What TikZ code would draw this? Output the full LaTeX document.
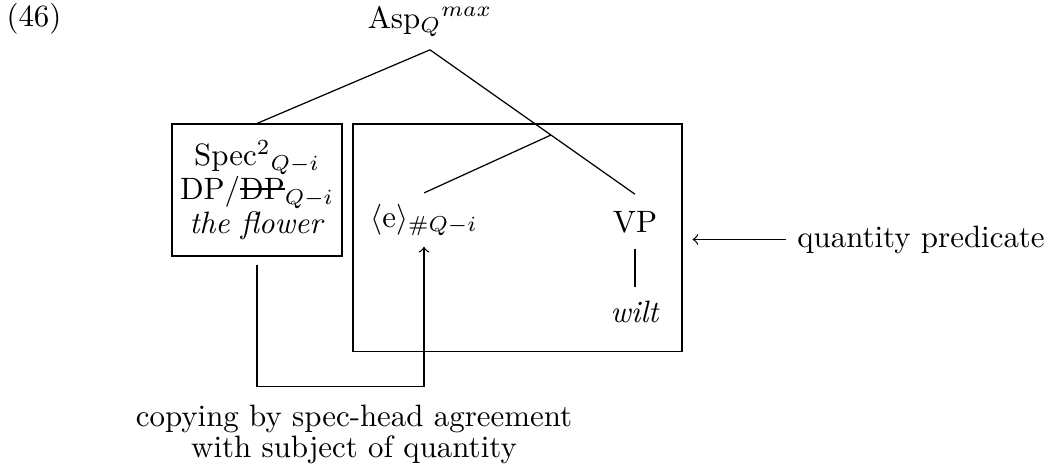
\documentclass[tikz,border=0pt]{standalone}
\usetikzlibrary{calc}
\newcommand\strikeDP[1]{\setbox0\hbox{#1}\rlap{\rule[3.2pt]{\wd0}{0.4pt}}\box0}
\tikzset{
  lbl/.style={anchor=base, inner sep=3.33pt},
  boxnode/.style={draw, inner sep=0pt},
  tree/.style={draw, line width=0.4pt},
}
\begin{document}
\begin{tikzpicture}[x=0.3236pt, y=-0.3236pt]
\useasboundingbox (0,0) rectangle (1050,472);
% labels
\node[lbl] (num) at (34,26) {(46)};
\node[lbl, inner sep=4pt] (asp) at (430,28) {Asp$_Q{}^{max}$};
% boxes
\node[boxnode, minimum width=55pt, minimum height=42.7pt, align=center] (spec) at (257,190)
  {Spec$^2{}_{Q-i}$\\[-1pt] DP/\strikeDP{DP}$_{Q-i}$\\[-1pt] \textit{the flower}};
\node[boxnode, minimum width=106.5pt, minimum height=73.6pt] (vpbox) at (517.5,237.7) {};
% inner nodes
\node[lbl] (e) at (424,227) {$\langle$e$\rangle_{\#Q-i}$};
\node[lbl, inner xsep=3.33pt, inner ysep=5.2pt] (VP) at (635,232) {VP};
\node[lbl, inner xsep=3.33pt, inner ysep=4.3pt] (wilt) at (635,322) {\textit{wilt}};
\node[lbl] (qp) at (921,247) {quantity predicate};
\node[anchor=north, align=center, inner sep=3.33pt] (copy) at (354,394)
  {copying by spec-head agreement\\[-2pt] with subject of quantity};
% tree lines
\coordinate (mid) at ($(asp.south)!0.59!(VP.north)$);
\draw[tree] (asp.south) -- (spec.north);
\draw[tree] (asp.south) -- (VP.north);
\draw[tree] (e.north) -- (mid);
\draw[tree] (VP.south) -- (wilt.north);
% arrows
\draw[->] (qp.west) -- (qp.west -| vpbox.east) [shorten >=3.2pt];
\draw[->, shorten <=2.6pt] (spec.south) -- ++(0,130) -| (e.south);
\end{tikzpicture}
\end{document}
